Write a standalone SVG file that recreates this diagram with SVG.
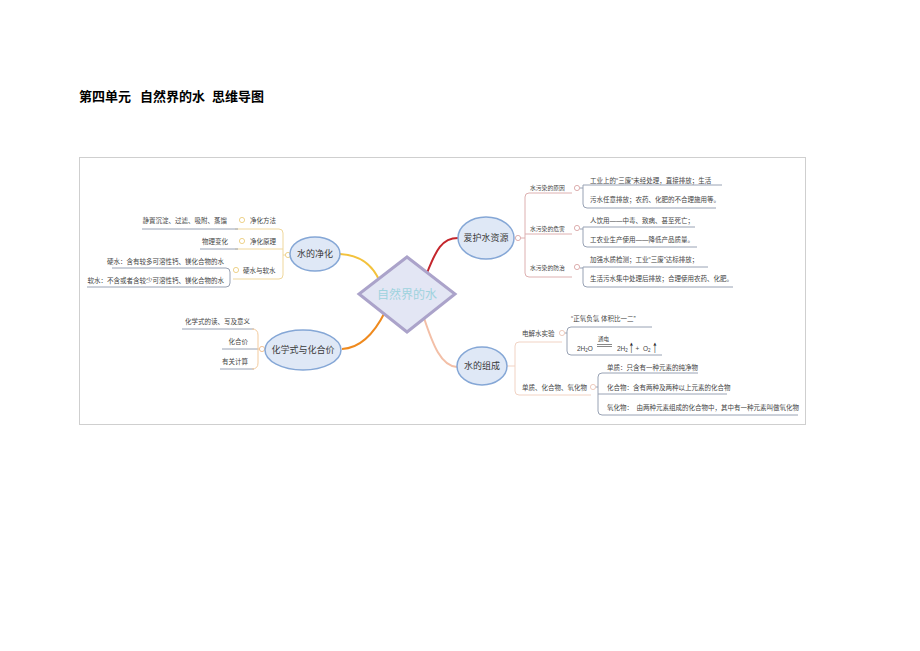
<svg xmlns="http://www.w3.org/2000/svg" width="920" height="651" viewBox="0 0 920 651">
<style>
text{font-family:"Liberation Sans","Noto Sans CJK SC",sans-serif;fill:#444}
.s{font-size:6.5px}
.xs{font-size:5.8px}
.tp{font-size:9px;fill:#3a3a3a;text-anchor:middle}
.e{fill:#dfe8f6;stroke:#85a7d6;stroke-width:1.5}
.ul{fill:none;stroke:#98a2b4;stroke-width:1}
.mk{fill:#fff;stroke-width:0.8}
.main{fill:none;stroke-width:2}
.title{font-size:13px;font-weight:bold;fill:#000}
.arr{font-size:14px;font-family:"DejaVu Sans",sans-serif;fill:#222;text-anchor:middle}
</style>
<rect x="0" y="0" width="920" height="651" fill="#fff"/>
<g id="title">
<text class="title" x="79" y="101">第四单元</text>
<text class="title" x="140" y="101">自然界的水</text>
<text class="title" x="212" y="101">思维导图</text>
</g>
<rect x="79.5" y="157.5" width="726" height="267" fill="none" stroke="#cfcfcf" stroke-width="1"/>
<g id="connectors">
<path class="main" stroke="#f3c23c" d="M340 254 C360 255 373 265 380 282"/>
<path class="main" stroke="#ef8a1e" d="M342 349 C363 348 376 330 385 312"/>
<path class="main" stroke="#c4262c" d="M427 273 C436 250 442 238 458 238"/>
<path class="main" stroke="#f3bfa7" d="M424 318 C433 345 441 366 457 367"/>
<path fill="none" stroke="#efd79c" stroke-width="1" d="M235 229 H279 Q283 229 283 233 V275 Q283 279 279 279 H233 M235 249 H283 M283 255 H285"/>
<path class="ul" d="M142 229 H238 M200 249 H238 M112 268 H226 Q230 268 230 272 V283 Q230 287 226 287 H87"/>
<path class="ul" d="M182 329 H254 M222 349 H258 M220 369 H254"/>
<path fill="none" stroke="#f3cb9e" stroke-width="1" d="M252 329 Q258 329 258 335 V363 Q258 369 252 369 M258 349 H259"/>
<path fill="none" stroke="#ddb0b0" stroke-width="1" d="M521 238 H525 M572 193 H529 Q525 193 525 197 V273 Q525 277 529 277 H572 M525 234 H572"/>
<path class="ul" d="M722 185 H583 V204 Q583 208 587 208 H716 M695 227 H583 V243 Q583 247 587 247 H697 M708 267 H583 V283 Q583 287 587 287 H733 M580 188 H583 M580 229 H583 M580 268 H583"/>
<path fill="none" stroke="#f1d3c4" stroke-width="1" d="M507 366 H515 M562 342 H519 Q515 342 515 346 V391 Q515 395 519 395 H591"/>
<path class="ul" d="M652 327 H571 Q567 327 567 331 V351 Q567 355 571 355 H662 M698 373 H602 Q598 373 598 377 V411 Q598 415 602 415 H798 M598 394 H727 M565 333 H567 M596 387 H598"/>
</g>
<g id="markers">
<circle class="mk" stroke="#e9c66e" cx="288" cy="255" r="2.6"/>
<circle class="mk" stroke="#e9c66e" cx="242" cy="220" r="2.6"/>
<circle class="mk" stroke="#e9c66e" cx="242" cy="241" r="2.6"/>
<circle class="mk" stroke="#e9c66e" cx="236" cy="270" r="2.6"/>
<circle class="mk" stroke="#efb27a" cx="262" cy="349" r="2.6"/>
<circle class="mk" stroke="#d49a9a" cx="518" cy="238" r="2.6"/>
<circle class="mk" stroke="#d49a9a" cx="577" cy="188" r="2.6"/>
<circle class="mk" stroke="#d49a9a" cx="577" cy="228" r="2.6"/>
<circle class="mk" stroke="#d49a9a" cx="577" cy="267" r="2.6"/>
<circle class="mk" stroke="#e9bfae" cx="562" cy="333" r="2.6"/>
<circle class="mk" stroke="#e9bfae" cx="593" cy="387" r="2.6"/>
</g>
<g id="center">
<polygon points="407,257 455,294 407,332 359,294" fill="#e3e6f4" stroke="#aba3ca" stroke-width="3"/>
<text x="407" y="298.5" style="font-size:12px;fill:#9fd3de;text-anchor:middle">自然界的水</text>
</g>
<g id="node-jinghua">
<ellipse class="e" cx="315" cy="254" rx="25" ry="17"/>
<text class="tp" x="315" y="257">水的净化</text>
<text class="s" x="250" y="223">净化方法</text>
<text class="s" x="227" y="223" text-anchor="end">静置沉淀、过滤、吸附、蒸馏</text>
<text class="s" x="250" y="244">净化原理</text>
<text class="s" x="228" y="244" text-anchor="end">物理变化</text>
<text class="s" x="243" y="273">硬水与软水</text>
<text class="s" x="224" y="264" text-anchor="end">硬水：含有较多可溶性钙、镁化合物的水</text>
<text class="s" x="224" y="283" text-anchor="end">软水：不含或者含较少可溶性钙、镁化合物的水</text>
</g>
<g id="node-huaxueshi">
<ellipse class="e" cx="303" cy="350" rx="38" ry="20"/>
<text class="tp" x="303" y="353">化学式与化合价</text>
<text class="s" x="250" y="324" text-anchor="end">化学式的读、写及意义</text>
<text class="s" x="248" y="344" text-anchor="end">化合价</text>
<text class="s" x="248" y="364" text-anchor="end">有关计算</text>
</g>
<g id="node-aihu">
<ellipse class="e" cx="486" cy="238" rx="28" ry="21"/>
<text class="tp" x="486" y="241">爱护水资源</text>
<text class="xs" x="530" y="190">水污染的原因</text>
<text class="xs" x="530" y="231">水污染的危害</text>
<text class="xs" x="530" y="270">水污染的防治</text>
<text class="s" x="590" y="182.5">工业上的“三废”未经处理，直接排放；生活</text>
<text class="s" x="590" y="202">污水任意排放；农药、化肥的不合理施用等。</text>
<text class="s" x="590" y="222.5">人饮用——中毒、致病、甚至死亡；</text>
<text class="s" x="590" y="241.5">工农业生产使用——降低产品质量。</text>
<text class="s" x="590" y="262">加强水质检测；工业“三废”达标排放；</text>
<text class="s" x="590" y="281">生活污水集中处理后排放；合理使用农药、化肥。</text>
</g>
<g id="node-zucheng">
<ellipse class="e" cx="482" cy="366" rx="25" ry="19"/>
<text class="tp" x="482" y="369">水的组成</text>
<text class="s" x="522" y="335.5">电解水实验</text>
<text class="s" x="522" y="389.5">单质、化合物、氧化物</text>
<text class="s" x="571" y="320.5">“正氧负氢 体积比一二”</text>
<text class="s" x="577" y="350.5">2H<tspan font-size="4.5" dy="1.5">2</tspan><tspan dy="-1.5">O</tspan></text>
<text x="598" y="340.5" style="font-size:5.5px">通电</text>
<path d="M597 344.5 H612 M597 346.5 H612" stroke="#555" stroke-width="0.7"/>
<text class="s" x="617" y="350.5">2H<tspan font-size="4.5" dy="1.5">2</tspan></text>
<text class="arr" transform="translate(631.5 352.5) scale(0.42 1)">↑</text>
<text class="s" x="635.5" y="350.5">+</text>
<text class="s" x="643" y="350.5">O<tspan font-size="4.5" dy="1.5">2</tspan></text>
<text class="arr" transform="translate(655 352.5) scale(0.42 1)">↑</text>
<text class="s" x="607" y="369.5">单质：只含有一种元素的纯净物</text>
<text class="s" x="607" y="389.5">化合物：含有两种及两种以上元素的化合物</text>
<text class="s" x="607" y="409.5" xml:space="preserve">氧化物：  由两种元素组成的化合物中，其中有一种元素叫做氧化物</text>
</g>
</svg>
